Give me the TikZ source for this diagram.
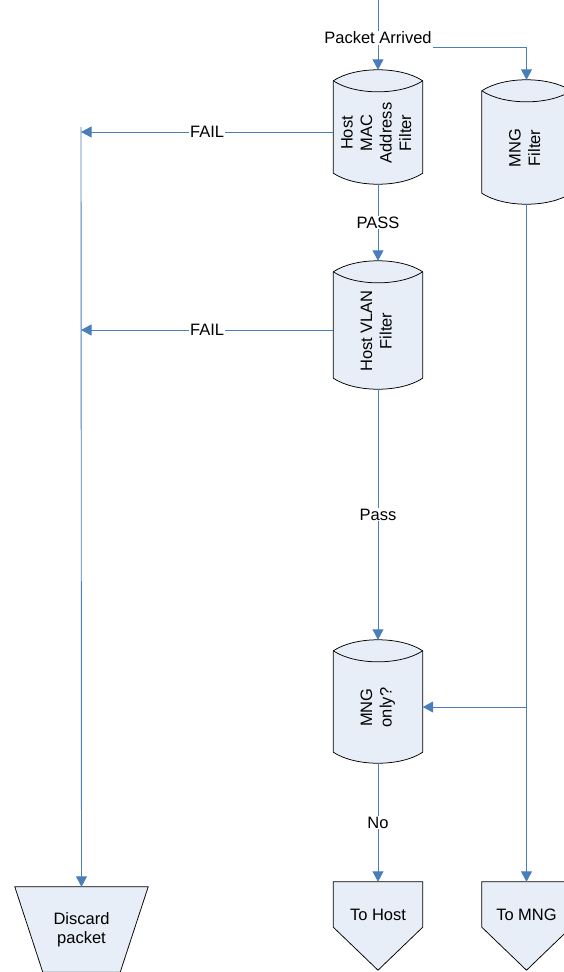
\documentclass[tikz,border=0pt]{standalone}
\usepackage{fontspec}
\usepackage{graphicx}
\setmainfont{Liberation Sans}
\usetikzlibrary{arrows.meta, calc, positioning}
\pgfdeclarelayer{background}
\pgfsetlayers{background,main}
\definecolor{flowblue}{HTML}{4A7EBB}
\definecolor{shapefill}{HTML}{E8EEF7}
\newcommand{\upright}[1]{\rotatebox{90}{\begin{tabular}{@{}c@{}}#1\end{tabular}\hspace*{12pt}}}
\tikzset{
  filter/.style={minimum width=89pt, inner sep=0pt},
  flow/.style={draw=flowblue, line width=0.9pt, -{Triangle[length=10.5pt, width=11pt]}},
  tag/.style={fill=white, inner sep=1pt},
  outline/.style={draw, fill=shapefill, line width=0.75pt},
  endbox/.style={inner sep=0pt, align=center},
}

\begin{document}
\begin{tikzpicture}[x=1pt, y=-1pt, font=\fontsize{16.5}{19.5}\selectfont]
\useasboundingbox (0,0) rectangle (563,972);

% Filters (node = straight body of the drum)
\node (macf) [filter, minimum height=92pt] at (378,127) {\upright{Host\\MAC\\Address\\Filter}};
\node (vlanf) [filter, minimum height=106pt] at (378,325) {\upright{Host VLAN\\Filter}};
\node (mngq) [filter, minimum height=101pt] at (378,701.5) {\upright{MNG\\only?}};
\node (mngf) [filter, minimum height=102pt] at (526.5,142) {\upright{MNG\\Filter}};

% End points
\node (discard) [endbox, minimum width=133pt, minimum height=85pt] at (81.5,929.5) {Discard\\packet};
\node (tohost) [endbox, minimum width=89pt, minimum height=66pt] at (378,915) {To Host};
\node (tomng) [endbox, minimum width=89pt, minimum height=66pt] at (526.5,915) {To MNG};

\begin{pgfonlayer}{background}
\foreach \n in {macf, vlanf, mngq, mngf} {
  \draw[outline] (\n.north west) -- (\n.south west)
    .. controls ([xshift=22pt, yshift=-14.7pt]\n.south west) and ([xshift=-22pt, yshift=-14.7pt]\n.south east) .. (\n.south east)
    -- (\n.north east)
    .. controls ([xshift=-22pt, yshift=14.7pt]\n.north east) and ([xshift=22pt, yshift=14.7pt]\n.north west) .. cycle;
  \draw[line width=0.75pt] (\n.north west)
    .. controls ([xshift=22pt, yshift=-14.7pt]\n.north west) and ([xshift=-22pt, yshift=-14.7pt]\n.north east) .. (\n.north east);
}
\draw[outline] (discard.north west) -- (discard.north east) -- ([xshift=-28pt]discard.south east)
  -- ([xshift=28pt]discard.south west) -- cycle;
\foreach \n in {tohost, tomng}
  \draw[outline] (\n.north west) -- (\n.north east) -- ([yshift=21pt]\n.south east)
    -- ([yshift=-22pt]\n.south) -- ([yshift=21pt]\n.south west) -- cycle;
\end{pgfonlayer}

% Connectors
\coordinate (entry) at (378,0);
\coordinate (drop) at (81,127);
\draw[flow] (entry) -- node[tag, pos=0.54] (arrived) {Packet Arrived} ([yshift=11pt]macf.north);
\draw[flow] ([yshift=-10pt]arrived.east) -| ([yshift=11pt]mngf.north);
\draw[flow] ([yshift=-11pt]macf.south) -- node[tag] {PASS} ([yshift=11pt]vlanf.north);
\draw[flow] ([yshift=-11pt]vlanf.south) -- node[tag] {Pass} ([yshift=11pt]mngq.north);
\draw[flow] ([yshift=-11pt]mngq.south) -- node[tag] {No} (tohost.north);
\draw[flow] ([yshift=-11pt]mngf.south) -- (tomng.north);
\draw[flow] (drop) -- (discard.north);

% Fail branches
\path (macf.west) ++(0,5) coordinate (fail1);
\path (vlanf.west) ++(0,5) coordinate (fail2);
\draw[flow] (fail1) -- node[tag] {FAIL} (fail1 -| drop);
\draw[flow] (fail2) -- node[tag] {FAIL} (fail2 -| drop);

% MNG branch
\path (mngq.east) ++(0,5.5) coordinate (mngin);
\draw[flow] (mngf.south |- mngin) -- (mngin);
\end{tikzpicture}
\end{document}
